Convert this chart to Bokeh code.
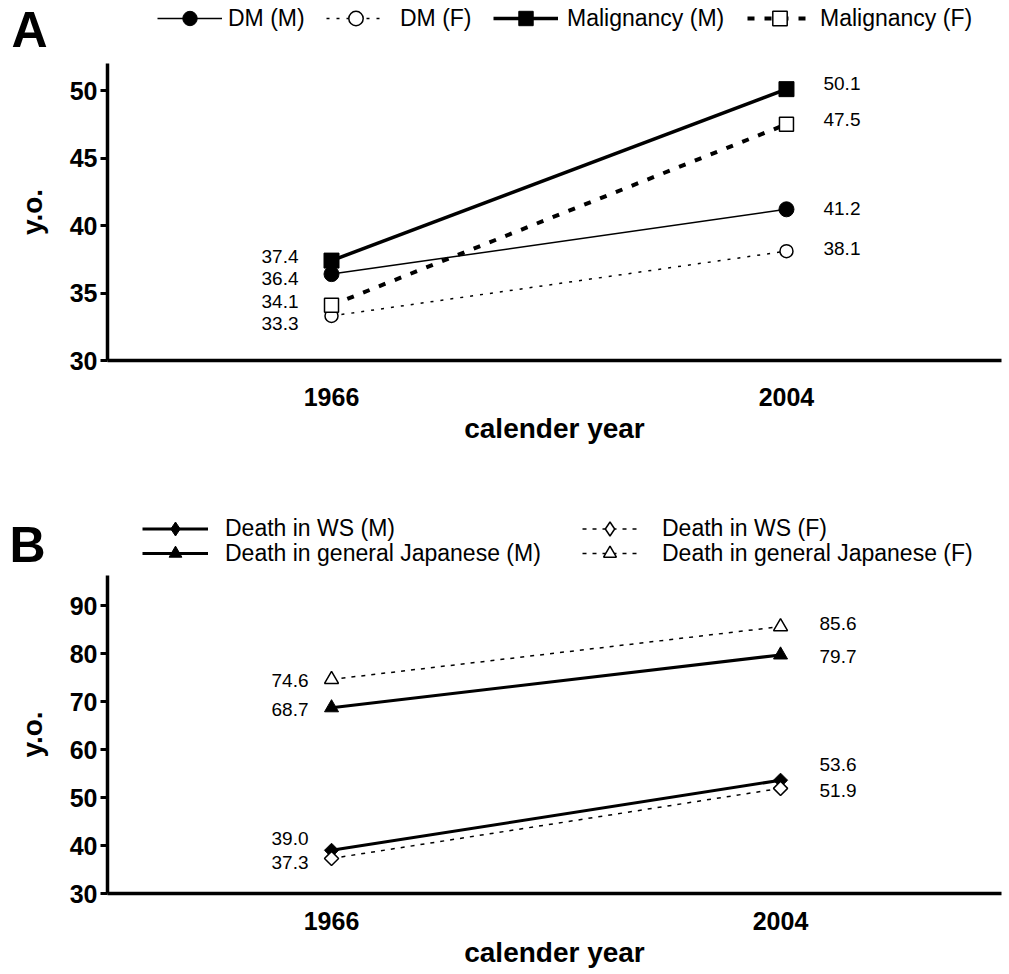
import math
from bokeh.plotting import figure
from bokeh.models import Range1d, FixedTicker, Legend, LegendItem, ColumnDataSource
from bokeh.layouts import column
from bokeh.embed import file_html
from bokeh.resources import INLINE
from bokeh.core.properties import value

# ---------------- data ----------------
years = [1966, 2004]
year_ticks = [1966, 2004]

# Panel A
dm_m = [36.4, 41.2]
dm_f = [33.3, 38.1]
mal_m = [37.4, 50.1]
mal_f = [34.1, 47.5]
labels_a = ["DM (M)", "DM (F)", "Malignancy (M)", "Malignancy (F)"]
ticks_a = [30, 35, 40, 45, 50]

# Panel B
ws_m = [39.0, 53.6]
ws_f = [37.3, 51.9]
gen_m = [68.7, 79.7]
gen_f = [74.6, 85.6]
labels_b = ["Death in WS (M)", "Death in WS (F)",
            "Death in general Japanese (M)", "Death in general Japanese (F)"]
ticks_b = [30, 40, 50, 60, 70, 80, 90]

x_title = "calender year"
y_title = "y.o."

# ---------------- style ----------------
FONT = "Liberation Sans"
W = 1002
LEFT = 107

# series styles: (line width, dash, marker, size, fill, marker line width, angle)
ST = {
    "dm_m": (1.5, "solid", "circle", 15, "black", 1, 0.0),
    "dm_f": (1.5, "3 7", "circle", 13, "white", 1.5, 0.0),
    "mal_m": (3.5, "solid", "square", 15, "black", 1, 0.0),
    "mal_f": (4, "7 10", "square", 14, "white", 1.5, 0.0),
    "ws_m": (3, "solid", "square", 10, "black", 1, math.pi / 4),
    "ws_f": (1.5, "4 6", "square", 10, "white", 1.5, math.pi / 4),
    "gen_m": (3, "solid", "triangle", 14, "black", 1, 0.0),
    "gen_f": (1.5, "4 6", "triangle", 14, "white", 1.5, 0.0),
}


def series(p, ys, key, marker=None):
    lw, dash, mk, msize, fill, mlw, angle = ST[key]
    rl = p.line(years, ys, line_color="black", line_width=lw, line_dash=dash)
    rm = p.scatter(years, ys, marker=marker or mk, size=msize, fill_color=fill,
                   line_color="black", line_width=mlw, angle=angle)
    return [rl, rm]


def make_header(height, btop, letter, standoff):
    h = figure(width=W, height=height, x_range=Range1d(0, 1), y_range=Range1d(0, 1),
               x_axis_type=None, output_backend="svg", toolbar_location=None,
               min_border_left=LEFT, min_border_right=1,
               min_border_top=btop, min_border_bottom=0)
    h.outline_line_color = None
    h.grid.visible = False
    h.background_fill_color = "white"
    h.border_fill_color = "white"
    ya = h.yaxis[0]
    ya.ticker = FixedTicker(ticks=[])
    ya.axis_line_color = None
    ya.major_tick_line_color = None
    ya.minor_tick_line_color = None
    ya.major_tick_out = 0
    ya.major_tick_in = 0
    ya.minor_tick_out = 0
    ya.minor_tick_in = 0
    ya.major_label_text_font_size = "0px"
    ya.major_label_standoff = 0
    ya.axis_label = letter
    ya.axis_label_orientation = "horizontal"
    ya.axis_label_standoff = standoff
    ya.axis_label_text_font = FONT
    ya.axis_label_text_font_style = "bold"
    ya.axis_label_text_font_size = "50px"
    ya.axis_label_text_color = "black"
    return h


def add_legend(h, label, rends, x, yc, gw, gh, standoff):
    leg = Legend(items=[LegendItem(label=label, renderers=rends)],
                 location=(x - LEFT, yc - gh / 2), orientation="vertical",
                 padding=0, margin=0, spacing=0,
                 glyph_width=gw, glyph_height=gh, label_standoff=standoff,
                 label_height=gh,
                 label_text_font=FONT, label_text_font_size="23px",
                 label_text_color="black", label_text_baseline="middle",
                 border_line_color=None, background_fill_alpha=0)
    h.add_layout(leg, "center")


def make_fig(height, xr, yr, yticks, btop, bbottom, tick_standoff, label_standoff):
    p = figure(width=W, height=height, x_range=Range1d(*xr), y_range=Range1d(*yr),
               output_backend="svg", toolbar_location=None,
               min_border_left=LEFT, min_border_right=1,
               min_border_top=btop, min_border_bottom=bbottom)
    p.outline_line_color = None
    p.grid.visible = False
    p.background_fill_color = "white"
    p.border_fill_color = "white"
    xa = p.xaxis[0]
    ya = p.yaxis[0]
    xa.ticker = FixedTicker(ticks=year_ticks)
    ya.ticker = FixedTicker(ticks=yticks)
    for ax in (xa, ya):
        ax.axis_line_width = 3.5
        ax.axis_line_color = "black"
        ax.major_label_text_font = FONT
        ax.major_label_text_font_style = "bold"
        ax.major_label_text_font_size = "25px"
        ax.major_label_text_color = "black"
        ax.axis_label_text_font = FONT
        ax.axis_label_text_font_style = "bold"
        ax.axis_label_text_font_size = "28px"
        ax.axis_label_text_color = "black"
        ax.minor_tick_out = 0
        ax.minor_tick_in = 0
    xa.major_tick_out = 0
    xa.major_tick_in = 0
    xa.major_label_standoff = tick_standoff
    xa.axis_label = x_title
    xa.axis_label_standoff = label_standoff
    ya.major_tick_out = 7
    ya.major_tick_in = 0
    ya.major_tick_line_width = 3
    ya.major_label_standoff = 3
    ya.axis_label = y_title
    ya.axis_label_standoff = 19
    return p


def add_values(p, xs, ys, align, xoff, yoffs):
    src = ColumnDataSource(dict(x=xs, y=ys, t=[f"{v:.1f}" for v in ys], yo=yoffs))
    p.text(x="x", y="y", text="t", source=src, text_align=align,
           text_baseline="middle", x_offset=xoff, y_offset="yo",
           text_font=value(FONT), text_font_size="19px", text_color="black")


# ---------------- panel A ----------------
HA_HEAD = 58
hA = make_header(HA_HEAD, 0, "A", 60)
lg_dm_m = series(hA, dm_m, "dm_m")
lg_dm_f = series(hA, dm_f, "dm_f")
lg_mal_m = series(hA, mal_m, "mal_m")
lg_mal_f = series(hA, mal_f, "mal_f")
rowA = HA_HEAD - 18          # row centre, measured from the header frame bottom
add_legend(hA, labels_a[0], lg_dm_m, 157, rowA, 65, 36, 6)
add_legend(hA, labels_a[1], lg_dm_f, 326, rowA, 59, 36, 15)
add_legend(hA, labels_a[2], lg_mal_m, 493, rowA, 65, 36, 9)
add_legend(hA, labels_a[3], lg_mal_f, 747, rowA, 65, 36, 8)

H_A = 402
pa = make_fig(H_A, (1947.29, 2021.96), (30, 52.0), ticks_a, 5, 100, 27, 4)
series(pa, dm_m, "dm_m")
series(pa, dm_f, "dm_f")
series(pa, mal_m, "mal_m")
series(pa, mal_f, "mal_f")
add_values(pa, [years[0]] * 4, [mal_m[0], dm_m[0], mal_f[0], dm_f[0]],
           "right", -33, [-4, 4.4, -3.6, 7.5])
add_values(pa, [years[1]] * 4, [mal_m[1], mal_f[1], dm_m[1], dm_f[1]],
           "left", 37, [-6, -4.5, -1, -2.6])

# ---------------- panel B ----------------
HB_HEAD = 115
hB = make_header(HB_HEAD, 53, "B", 62)
lg_ws_m = series(hB, ws_m, "ws_m", marker="diamond")
lg_ws_f = series(hB, ws_f, "ws_f", marker="diamond")
lg_gen_m = series(hB, gen_m, "gen_m")
lg_gen_f = series(hB, gen_f, "gen_f")
row1 = 47                   # from the header frame bottom
row2 = 22
add_legend(hB, labels_b[0], lg_ws_m, 142, row1, 66, 35, 17)
add_legend(hB, labels_b[2], lg_gen_m, 142, row2, 66, 32, 17)
add_legend(hB, labels_b[1], lg_ws_f, 582, row1, 55, 35, 25)
add_legend(hB, labels_b[3], lg_gen_f, 582, row2, 55, 32, 25)

H_B = 398
pb = make_fig(H_B, (1947.04, 2022.70), (30, 96.25), ticks_b, 0, H_B - 318, 18, 4)
series(pb, ws_m, "ws_m")
series(pb, ws_f, "ws_f")
series(pb, gen_m, "gen_m")
series(pb, gen_f, "gen_f")
add_values(pb, [years[0]] * 4, [gen_f[0], gen_m[0], ws_m[0], ws_f[0]],
           "right", -23, [1, 2, -12, 4])
add_values(pb, [years[1]] * 4, [gen_f[1], gen_m[1], ws_m[1], ws_f[1]],
           "left", 39, [-3, 2, -16, 2])

layout = column(hA, pa, hB, pb, spacing=0)
open("out.html", "w").write(file_html(layout, INLINE))
